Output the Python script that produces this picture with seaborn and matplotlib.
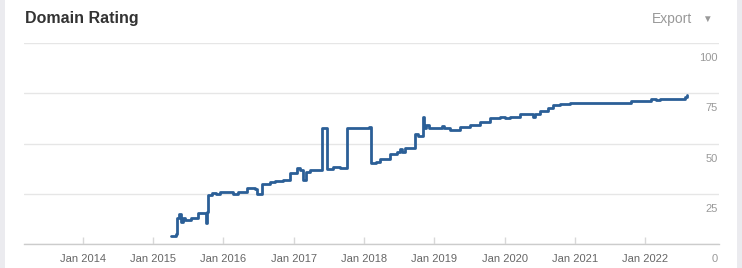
import matplotlib
matplotlib.use("Agg")
import matplotlib.pyplot as plt
import matplotlib.transforms as mtransforms
from matplotlib.patches import Rectangle
import pandas as pd
import seaborn as sns

# ---- data ----
dates = [
    "2015-04-04", "2015-04-29", "2015-05-05", "2015-05-15", "2015-05-26", "2015-06-05",
    "2015-06-14", "2015-07-16", "2015-08-21", "2015-10-02", "2015-10-08", "2015-10-15",
    "2015-11-03", "2015-11-23", "2015-12-14", "2016-02-19", "2016-03-16", "2016-05-02",
    "2016-06-13", "2016-06-23", "2016-07-19", "2016-08-29", "2016-09-25", "2016-11-05",
    "2016-12-12", "2017-01-18", "2017-02-03", "2017-02-18", "2017-03-06", "2017-03-26",
    "2017-05-28", "2017-06-23", "2017-07-22", "2017-08-28", "2017-10-03", "2018-01-25",
    "2018-02-05", "2018-03-03", "2018-03-24", "2018-05-15", "2018-06-20", "2018-07-05",
    "2018-07-16", "2018-07-31", "2018-09-22", "2018-10-07", "2018-11-02", "2018-11-10",
    "2018-11-18", "2018-12-03", "2019-01-30", "2019-02-10", "2019-02-21", "2019-03-24",
    "2019-05-15", "2019-07-05", "2019-08-26", "2019-10-16", "2019-12-08", "2020-01-02",
    "2020-01-28", "2020-03-20", "2020-05-28", "2020-06-07", "2020-07-03", "2020-08-14",
    "2020-09-09", "2020-10-15", "2020-12-05", "2021-10-19", "2022-01-30", "2022-02-24",
    "2022-03-17", "2022-07-26", "2022-08-07",
]
rating = [
    4, 5, 13, 15, 11, 13,
    12, 13, 15.5, 10.5, 16, 24.5,
    25.5, 25, 26, 25, 26, 28,
    27.5, 25, 30, 31, 31.5, 32,
    35.5, 38, 37, 32, 36, 37,
    57.5, 37.5, 38.5, 38, 57.5, 58,
    40.5, 41, 42.5, 45, 46, 47.5,
    46, 48, 54.5, 53.5, 63, 57.5,
    59, 57.5, 57.5, 58.5, 57.5, 56.5,
    58, 59, 60.5, 62.5, 63, 62.5,
    63, 64.5, 63, 64.5, 66, 67.5,
    69, 69.5, 70, 71, 72, 71.5,
    72, 73, 74,
]
x_tick_years = [2014, 2015, 2016, 2017, 2018, 2019, 2020, 2021, 2022]
x_tick_labels = ["Jan 2014", "Jan 2015", "Jan 2016", "Jan 2017", "Jan 2018",
                 "Jan 2019", "Jan 2020", "Jan 2021", "Jan 2022"]
y_ticks = [0, 25, 50, 75, 100]
title = "Domain Rating"

df = pd.DataFrame({"date": pd.to_datetime(dates), "rating": rating})

sns.set_theme(style="white")
plt.rcParams["font.family"] = ["Liberation Sans", "DejaVu Sans"]

W, H = 742, 268
fig = plt.figure(figsize=(W / 100, H / 100), dpi=100)
fig.patch.set_facecolor("white")

# side borders
fig.patches.append(Rectangle((0, 0), 5 / W, 1, transform=fig.transFigure,
                             facecolor="#ebebef", edgecolor="none", zorder=0))
fig.patches.append(Rectangle((737 / W, 0), 5 / W, 1, transform=fig.transFigure,
                             facecolor="#ebebef", edgecolor="none", zorder=0))

ax = fig.add_axes([24 / W, (H - 244) / H, (719 - 24) / W, (244 - 43) / H])
ax.set_facecolor("white")

sns.lineplot(data=df, x="date", y="rating", ax=ax, color="#2b5f97",
             linewidth=2.0, drawstyle="steps-post", zorder=3)

ax.set_xlim(pd.Timestamp("2013-03-01"), pd.Timestamp("2023-01-19"))
ax.set_ylim(0, 100)
ax.set_xlabel("")
ax.set_ylabel("")

ax.set_xticks(pd.to_datetime([f"{y}-01-01" for y in x_tick_years]))
ax.set_xticklabels(x_tick_labels)
ax.tick_params(axis="x", direction="in", length=5, width=1, color="#d8d8d8",
               labelsize=8, labelcolor="#666666", pad=7, bottom=True)

ax.set_yticks(y_ticks)
ax.set_yticklabels([str(v) for v in y_ticks])
ax.yaxis.tick_right()
ax.tick_params(axis="y", length=0, labelsize=8, labelcolor="#999999", pad=0,
               right=False, labelright=True, labelleft=False)
offset = mtransforms.ScaledTranslation(-1 / 100, -14 / 100, fig.dpi_scale_trans)
for lbl in ax.get_yticklabels():
    lbl.set_horizontalalignment("right")
    lbl.set_transform(lbl.get_transform() + offset)

ax.grid(axis="y", color="#e6e6e6", linewidth=1)
ax.grid(axis="x", visible=False)
for side in ["top", "left", "right"]:
    ax.spines[side].set_visible(False)
ax.spines["bottom"].set_color("#cccccc")
ax.spines["bottom"].set_linewidth(1)

fig.text(25 / W, 1 - 18 / H, title, fontsize=11.5, fontweight="bold",
         color="#333333", ha="left", va="center")
fig.text(692 / W, 1 - 19 / H, "Export", fontsize=10, color="#999999",
         ha="right", va="center")
fig.text(707 / W, 1 - 19 / H, "▼", fontsize=7, color="#999999",
         ha="center", va="center", family=["Liberation Sans", "DejaVu Sans"])

fig.savefig("out.png", dpi=100)
